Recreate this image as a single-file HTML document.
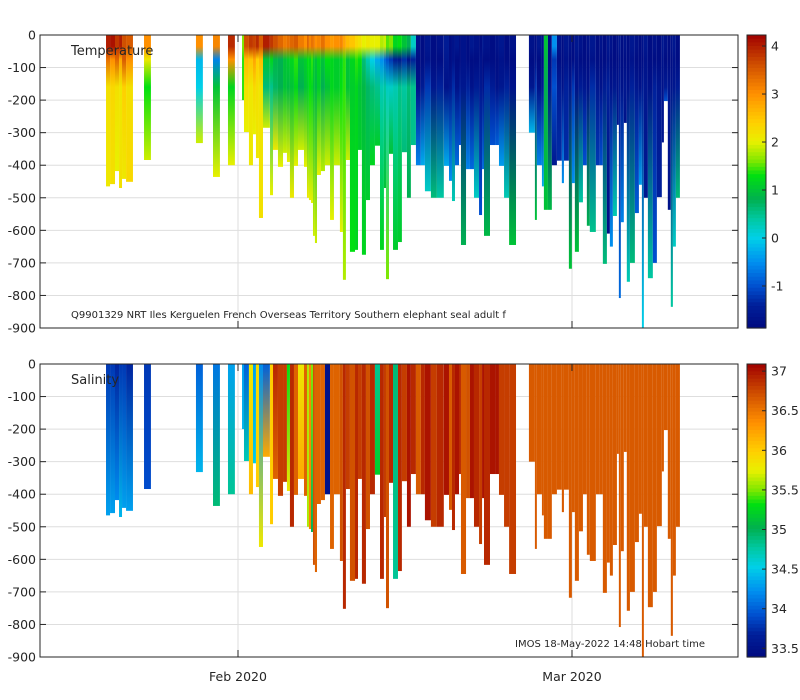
<!DOCTYPE html>
<html><head><meta charset="utf-8">
<style>
body{margin:0;background:#fff;}
svg{display:block;font-family:"DejaVu Sans","Liberation Sans",sans-serif;}
</style></head>
<body>
<svg id="chart" width="800" height="700" viewBox="0 0 800 700">
<defs id="defs"></defs>
<g id="grid"></g>
<g id="marks"></g>
<g id="axes"></g>
</svg>
<script>
// ---- data ----
const times = [19.54,19.89,20.32,20.67,20.93,21.28,
22.84,27.35,28.83,30.13,
31.35,31.52,31.95,32.30,32.56,32.82,33.17,33.78,34.04,34.47,34.91,35.25,35.51,35.86,36.21,36.73,36.99,37.16,37.34,37.51,37.68,37.86,38.20,38.55,38.99,39.33,39.85,40.11,40.37,40.72,41.16,41.42,41.76,42.11,42.46,
42.89,43.33,43.67,43.85,
44.11,44.46,44.89,45.23,45.67,46.01,46.45,46.88,47.23,47.75,48.27,48.88,49.32,49.58,49.84,50.19,50.36,50.80,51.14,51.49,51.93,52.19,52.36,52.88,53.32,53.66,54.10,54.54,
56.26,56.78,56.95,57.39,57.56,57.91,58.25,58.69,59.12,59.30,59.73,59.99,60.25,60.60,60.95,61.29,61.55,62.07,62.42,62.68,63.03,63.29,63.55,63.90,64.07,64.24,64.50,64.76,65.03,65.46,65.81,66.07,66.24,66.59,67.02,67.37,67.80,67.98,68.32,68.58,68.76,69.02];
const maxDepth = [465,458,418,470,442,451,
384,332,436,400,
200,298,400,305,378,562,285,492,353,405,362,390,500,402,353,405,500,507,516,617,639,430,418,400,568,400,605,752,384,666,660,353,675,507,400,
340,660,470,750,
365,660,636,360,500,338,400,400,480,500,500,402,448,510,400,338,645,412,412,500,553,412,617,338,338,402,500,645,
300,568,400,465,537,537,400,386,455,386,718,455,666,514,400,586,605,400,400,703,610,650,556,276,808,575,270,758,700,547,460,900,500,747,700,498,330,203,537,835,650,500];
const tSurf = [4.0,4.1,3.8,4.0,3.6,3.5,
3.0,3.0,3.1,3.9,
1.6,3.6,3.8,3.7,3.9,3.5,4.0,3.8,3.6,3.4,3.2,3.3,3.4,3.5,3.2,3.0,3.4,3.1,3.3,3.2,3.0,3.1,3.3,3.0,2.9,3.0,3.1,2.8,2.6,2.5,2.3,2.2,2.0,2.1,2.0,
2.0,1.8,1.9,1.5,
1.6,1.2,1.3,1.0,0.8,0.2,-1.7,-1.8,-1.6,-1.8,-1.7,-1.5,-1.8,-1.7,-1.6,-1.8,-1.7,-1.8,-1.6,-1.7,-1.8,-1.6,-1.7,-1.8,-1.7,-1.6,-1.8,-1.7,
-1.7,-1.8,-1.6,-1.7,1.0,-1.8,-0.5,-1.7,-1.8,-1.6,-1.7,-1.8,-1.6,-1.7,-1.8,-1.7,-1.6,-1.8,-1.7,-1.8,-1.6,-1.7,-1.8,-1.7,-1.6,-1.8,-1.7,-1.8,-1.6,-1.7,-1.8,-1.7,-1.6,-1.8,-1.7,-1.8,-1.6,-1.7,-1.8,-1.7,-1.6,-1.8];
const tMid = [3.3,3.0,3.4,2.8,3.5,3.0,
2.1,-0.2,-0.6,3.0,
1.4,2.6,2.5,2.8,2.4,2.6,1.0,1.2,0.9,0.8,1.0,1.1,1.2,1.4,1.0,1.1,1.3,1.2,1.4,1.1,1.0,1.2,1.0,1.3,1.2,1.1,1.2,1.4,1.0,1.2,1.4,1.3,0.6,0.3,0.0,
-0.3,-0.5,-0.8,-1.0,
-1.2,-1.5,-1.6,-1.3,-1.7,-1.4,-1.8,-1.8,-1.7,-1.8,-1.8,-1.6,-1.8,-1.7,-1.8,-1.8,-1.7,-1.8,-1.8,-1.8,-1.7,-1.8,-1.8,-1.8,-1.8,-1.7,-1.8,-1.8,
-1.8,-1.7,-1.8,-1.8,0.9,-1.8,-1.2,-1.8,-1.8,-1.7,-1.8,-1.8,-1.7,-1.8,-1.8,-1.8,-1.7,-1.8,-1.8,-1.8,-1.7,-1.8,-1.8,-1.8,-1.7,-1.8,-1.8,-1.8,-1.7,-1.8,-1.8,-1.8,-1.7,-1.8,-1.8,-1.8,-1.7,-1.8,-1.8,-1.8,-1.7,-1.8];
const tThermo = [2.2,2.3,2.2,2.1,2.4,2.2,
1.3,0.0,1.0,1.2,
1.4,2.2,2.1,2.3,2.2,2.1,0.6,0.5,0.7,0.8,1.0,0.9,1.0,1.2,0.8,1.0,1.1,1.3,1.2,1.0,0.9,1.1,0.8,1.0,1.2,1.1,1.3,1.4,1.0,1.1,1.2,1.0,0.9,0.7,0.6,
0.5,0.3,0.4,0.2,
0.2,0.3,0.5,0.4,0.6,0.5,-1.7,-1.5,-1.2,-1.6,-1.4,-1.7,-1.6,-1.3,-1.7,-1.5,-1.6,-1.4,-1.7,-1.5,-1.6,-1.7,-1.3,-1.5,-1.7,-1.6,-1.4,-1.7,
-1.6,-1.2,-1.7,-1.5,0.8,-1.6,-1.0,-1.5,-1.7,-1.4,-1.6,-1.2,-1.7,-1.5,-1.6,-1.7,-1.3,-1.6,-1.7,-1.5,-1.4,-1.7,-1.6,-1.7,-1.5,-1.7,-1.6,-1.7,-1.4,-1.6,-1.7,-1.5,-1.6,-1.7,-1.4,-1.6,-1.7,-1.5,-1.6,-1.7,-1.6,-1.5];
const tDeep = [2.1,2.2,2.0,2.2,2.1,2.3,
1.9,1.9,2.0,2.0,
1.4,2.0,2.1,2.0,2.1,2.2,1.9,2.0,2.1,2.0,1.9,2.0,2.1,2.0,1.9,2.0,2.1,2.0,2.0,1.9,1.9,2.0,1.8,1.9,2.0,1.9,2.0,1.8,1.9,1.3,1.2,1.1,1.2,1.1,1.2,
1.1,1.2,1.0,1.6,
1.0,1.1,1.1,0.6,0.8,0.5,-0.6,-0.3,0.2,0.6,0.4,-0.3,-0.5,0.3,-0.8,-1.0,0.8,-0.6,-0.8,0.2,-1.0,-0.8,0.9,-1.0,-0.9,-0.4,0.3,1.0,
-0.2,1.0,-0.6,-0.3,1.0,0.9,-1.6,-1.3,-0.5,-1.3,1.0,-0.5,1.0,0.4,-1.0,0.8,0.5,-1.2,-1.0,0.6,-1.8,-0.5,0.3,-1.6,-0.8,-0.6,-1.7,0.3,0.6,-0.9,-0.4,0.0,-1.6,0.4,-1.0,-1.4,-1.6,-1.0,-1.7,0.4,0.2,0.6];
const sSurf = [33.8,33.8,33.7,33.8,33.8,33.7,
33.8,34.0,34.1,34.3,
34.3,34.0,35.8,34.3,35.9,34.2,34.0,36.0,36.9,36.8,36.8,35.3,36.9,36.6,35.8,36.6,35.6,36.4,35.5,36.7,36.6,36.6,36.6,33.5,36.6,36.6,36.7,36.9,36.8,36.7,36.9,36.8,36.9,36.7,36.9,
34.8,36.9,36.8,36.7,
36.9,34.9,36.9,36.8,37.0,36.9,36.65,36.9,37.0,36.8,36.9,37.0,36.65,36.9,37.0,36.9,36.65,36.7,37.0,36.9,36.8,37.0,36.9,37.0,37.0,36.8,36.8,36.8,
36.65,36.65,36.65,36.65,36.65,36.65,36.65,36.65,36.65,36.65,36.65,36.65,36.65,36.65,36.65,36.65,36.65,36.65,36.65,36.65,36.65,36.65,36.65,36.65,36.65,36.65,36.65,36.65,36.65,36.65,36.65,36.65,36.65,36.65,36.65,36.65,36.65,36.65,36.65,36.65,36.65,36.65];
const sDeep = [34.3,34.3,34.2,34.4,34.3,34.3,
33.9,34.4,34.9,34.8,
34.4,34.7,36.1,34.5,36.0,35.8,36.2,36.0,36.6,36.8,36.8,35.8,36.9,36.6,36.2,36.6,35.6,36.4,35.0,36.7,36.6,36.6,36.6,33.5,36.6,36.6,36.7,36.9,36.8,36.7,36.9,36.8,36.9,36.7,36.9,
35.2,36.9,36.8,36.7,
36.9,34.8,36.9,36.8,37.0,36.9,36.65,36.9,37.0,36.8,36.9,37.0,36.65,36.9,37.0,36.9,36.65,36.7,37.0,36.9,36.8,37.0,36.9,37.0,37.0,36.8,36.8,36.8,
36.65,36.65,36.65,36.65,36.65,36.65,36.65,36.65,36.65,36.65,36.65,36.65,36.65,36.65,36.65,36.65,36.65,36.65,36.65,36.65,36.65,36.65,36.65,36.65,36.65,36.65,36.65,36.65,36.65,36.65,36.65,36.65,36.65,36.65,36.65,36.65,36.65,36.65,36.65,36.65,36.65,36.65];
const depthTicks = [0,-100,-200,-300,-400,-500,-600,-700,-800,-900];
const dateTicks = [31, 60];
const dateLabels = ["Feb 2020", "Mar 2020"];
const tempTicks = [4,3,2,1,0,-1];
const salTicks = [37,36.5,36,35.5,35,34.5,34,33.5];

// ---- scales ----
const X0=40, X1=738;
const xScale = d => 238 + (d-31)*11.517;
const panels = [{top:35,bot:328},{top:364,bot:657}];
const yScale = (p, depth) => p.top + depth*(p.bot-p.top)/900;
const T_MIN=-1.875, T_MAX=4.23, S_MIN=33.39, S_MAX=37.09;
const stops = [[0,[0,10,128]],[0.078,[0,32,154]],[0.143,[0,80,208]],[0.225,[0,144,240]],[0.307,[0,208,232]],[0.373,[0,200,160]],[0.439,[0,176,80]],[0.52,[0,224,16]],[0.57,[128,232,0]],[0.635,[232,240,0]],[0.70,[255,208,0]],[0.799,[255,144,0]],[0.897,[208,80,0]],[1,[160,0,0]]];
function cmap(v){
  v=Math.max(0,Math.min(1,v));
  for(let i=1;i<stops.length;i++){
    if(v<=stops[i][0]){
      const a=stops[i-1],b=stops[i],f=(v-a[0])/(b[0]-a[0]);
      const c=a[1].map((x,k)=>Math.round(x+(b[1][k]-x)*f));
      return `rgb(${c[0]},${c[1]},${c[2]})`;
    }
  }
  return 'rgb(160,0,0)';
}
const tColor = t => cmap((t-T_MIN)/(T_MAX-T_MIN));
const sColor = s => cmap((s-S_MIN)/(S_MAX-S_MIN));

const NS='http://www.w3.org/2000/svg';
const defs=document.getElementById('defs');
const grid=document.getElementById('grid');
const marks=document.getElementById('marks');
const axes=document.getElementById('axes');
function el(tag, attrs, parent){
  const e=document.createElementNS(NS,tag);
  for(const k in attrs) e.setAttribute(k,attrs[k]);
  parent.appendChild(e); return e;
}

// grid
panels.forEach((p,pi)=>{
  depthTicks.forEach(t=>{
    const y=yScale(p,-t);
    const g=el('line',{x1:X0,x2:X1,y1:y,y2:y,stroke:'#dedede','stroke-width':1},grid);
    
    
  });
  dateTicks.forEach(d=>{
    const x=xScale(d);
    const g=el('line',{x1:x,x2:x,y1:p.top,y2:p.bot,stroke:'#dedede','stroke-width':1},grid);
    
    
  });
});

// profiles
const last=arr=>arr[arr.length-1];
times.forEach((t,i)=>{
  const next = i<times.length-1 ? times[i+1] : t+0.35;
  const w = Math.min(next-t, 0.6);
  const x=xScale(t), x2=xScale(t+w);
  const dep=maxDepth[i]??400;
  const ts=tSurf[i]??last(tSurf);
  // temperature
  const p0=panels[0];
  const gid='gt'+i;
  const lg=el('linearGradient',{id:gid,gradientUnits:'userSpaceOnUse',x1:0,x2:0,y1:yScale(p0,0),y2:yScale(p0,dep)},defs);
  const tv=[[0,ts],[Math.min(35,dep*0.25),ts],[Math.min(75,dep*0.5),tMid[i]??last(tMid)],[Math.min(160,dep*0.8),tThermo[i]??last(tThermo)],[dep,tDeep[i]??last(tDeep)]];
  tv.forEach(([d,v])=>el('stop',{offset:(d/dep).toFixed(3),'stop-color':tColor(v)},lg));
  const r=el('rect',{x:x,y:p0.top,width:Math.max(1,x2-x),height:yScale(p0,dep)-p0.top,fill:`url(#${gid})`},marks);
  
  
  // salinity
  const p1=panels[1];
  const sid='gs'+i;
  const lg2=el('linearGradient',{id:sid,gradientUnits:'userSpaceOnUse',x1:0,x2:0,y1:yScale(p1,0),y2:yScale(p1,dep)},defs);
  el('stop',{offset:0,'stop-color':sColor(sSurf[i]??last(sSurf))},lg2);
  el('stop',{offset:1,'stop-color':sColor(sDeep[i]??last(sDeep))},lg2);
  const r2=el('rect',{x:x,y:p1.top,width:Math.max(1,x2-x),height:yScale(p1,dep)-p1.top,fill:`url(#${sid})`},marks);
  
  
});

// axes
panels.forEach((p,pi)=>{
  const b=el('rect',{x:X0,y:p.top,width:X1-X0,height:p.bot-p.top,fill:'none',stroke:'#262626','stroke-width':1},axes);
  
  
  depthTicks.forEach(t=>{
    const y=yScale(p,-t);
    el('line',{x1:X0,x2:X0+6,y1:y,y2:y,stroke:'#262626'},axes);
    el('line',{x1:X1-6,x2:X1,y1:y,y2:y,stroke:'#262626'},axes);
    const tx=el('text',{x:X0-4,y:y+4.5,'text-anchor':'end','font-size':12.5,fill:'#262626'},axes);
    tx.textContent=String(t);
    
    
  });
  dateTicks.forEach(d=>{
    const x=xScale(d);
    el('line',{x1:x,x2:x,y1:p.top,y2:p.top+7,stroke:'#262626'},axes);
    el('line',{x1:x,x2:x,y1:p.bot-7,y2:p.bot,stroke:'#262626'},axes);
  });
});
dateTicks.forEach((d,i)=>{
  const tx=el('text',{x:xScale(d),y:681,'text-anchor':'middle','font-size':12.5,fill:'#262626'},axes);
  tx.textContent=dateLabels[i];
  
  
});

// colorbars
function colorbar(p, vmin, vmax, ticks, colorFn, name){
  const cx=747, cw=19, h=p.bot-p.top, n=80;
  for(let k=0;k<n;k++){
    const v=vmax-(k+0.5)*(vmax-vmin)/n;
    el('rect',{x:cx,y:p.top+k*h/n,width:cw,height:h/n+0.6,fill:colorFn(v)},axes);
  }
  const f=el('rect',{x:cx,y:p.top,width:cw,height:h,fill:'none',stroke:'#262626'},axes);
  
  
  ticks.forEach(t=>{
    const y=p.top+(vmax-t)*h/(vmax-vmin);
    el('line',{x1:cx+cw-4,x2:cx+cw,y1:y,y2:y,stroke:'#262626'},axes);
    const tx=el('text',{x:cx+cw+5,y:y+4.5,'font-size':12.5,fill:'#262626'},axes);
    tx.textContent=String(t);
    
    
  });
}
colorbar(panels[0],T_MIN,T_MAX,tempTicks,tColor,'temperature-colorbar');
colorbar(panels[1],S_MIN,S_MAX,salTicks,sColor,'salinity-colorbar');

function label(x,y,txt,size,name,anchor){
  const t=el('text',{x:x,y:y,'font-size':size,fill:'#262626','text-anchor':anchor||'start'},axes);
  t.textContent=txt;
  
  
}
label(71,55,'Temperature',13,'temperature-title');
label(71,384,'Salinity',13,'salinity-title');
label(71,318,'Q9901329 NRT Iles Kerguelen French Overseas Territory Southern elephant seal adult f',10,'deployment-caption');
label(705,647,'IMOS 18-May-2022 14:48 Hobart time',10,'imos-timestamp','end');
</script>
</body></html>
